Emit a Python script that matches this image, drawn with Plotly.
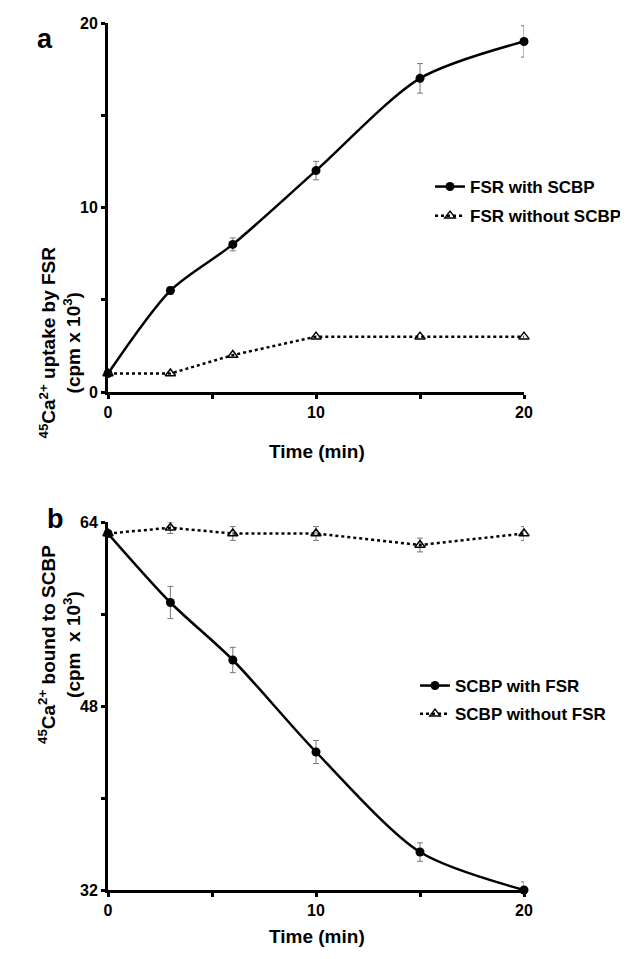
import plotly.graph_objects as go

time_min = [0, 3, 6, 10, 15, 20]

# Panel a: 45Ca2+ uptake by FSR (cpm x 10^3)
fsr_with_scbp = [1.0, 5.5, 8.0, 12.0, 17.0, 19.0]
fsr_with_scbp_err = [0.0, 0.2, 0.35, 0.5, 0.8, 0.85]
fsr_without_scbp = [1.0, 1.0, 2.0, 3.0, 3.0, 3.0]

# Panel b: 45Ca2+ bound to SCBP (cpm x 10^3)
scbp_with_fsr = [63.0, 57.0, 52.0, 44.0, 35.3, 32.0]
scbp_with_fsr_err = [0.0, 1.4, 1.1, 1.0, 0.8, 0.7]
scbp_without_fsr = [63.0, 63.5, 63.0, 63.0, 62.0, 63.0]
scbp_without_fsr_err = [0.0, 0.5, 0.6, 0.6, 0.6, 0.6]

x_tickvals = [0, 5, 10, 15, 20]
x_ticktext = ["0", "", "10", "", "20"]
ya_tickvals = [0, 5, 10, 15, 20]
ya_ticktext = ["0", "", "10", "", "20"]
yb_tickvals = [32, 40, 48, 56, 64]
yb_ticktext = ["32", "", "48", "", "64"]

FONT = "Liberation Sans, Arial, sans-serif"
# The page body has an 8px default margin; the figure is sized to fit inside it.
OFF = 8
W, H = 628 - 2 * OFF, 959 - 2 * OFF

def px_x(p):
    return (p - OFF) / W

def px_y(p):
    return 1 - (p - OFF) / H

fig = go.Figure()

err_style = dict(type="data", visible=True, color="#777777", thickness=1, width=3)

fig.add_trace(go.Scatter(
    x=time_min, y=fsr_with_scbp, mode="lines+markers", name="FSR with SCBP",
    line=dict(color="black", width=2.5, shape="spline", smoothing=0.8),
    marker=dict(symbol="circle", size=9, color="black"),
    error_y=dict(array=fsr_with_scbp_err, **err_style),
    xaxis="x", yaxis="y", legend="legend", legendgroup="a1", cliponaxis=False))
fig.add_trace(go.Scatter(
    x=time_min, y=fsr_without_scbp, mode="lines+markers", name="FSR without SCBP",
    line=dict(color="black", width=2.5, dash="dot"),
    marker=dict(symbol="triangle-up-open", size=9, color="black", line=dict(width=1.5)),
    xaxis="x", yaxis="y", legend="legend", legendgroup="a2", cliponaxis=False))

fig.add_trace(go.Scatter(
    x=time_min, y=scbp_with_fsr, mode="lines+markers", name="SCBP with FSR",
    line=dict(color="black", width=2.5, shape="spline", smoothing=0.8),
    marker=dict(symbol="circle", size=9, color="black"),
    error_y=dict(array=scbp_with_fsr_err, **err_style),
    xaxis="x2", yaxis="y2", legend="legend2", legendgroup="b1", cliponaxis=False))
fig.add_trace(go.Scatter(
    x=time_min, y=scbp_without_fsr, mode="lines+markers", name="SCBP without FSR",
    line=dict(color="black", width=2.5, dash="dot"),
    marker=dict(symbol="triangle-up-open", size=9, color="black", line=dict(width=1.5)),
    error_y=dict(array=scbp_without_fsr_err, **err_style),
    xaxis="x2", yaxis="y2", legend="legend2", legendgroup="b2", cliponaxis=False))

axis_common = dict(showline=True, linecolor="black", linewidth=3, ticks="outside",
                   ticklen=4, tickwidth=3, tickcolor="black", showgrid=False,
                   zeroline=False, automargin=False,
                   tickfont=dict(family=FONT, size=16, color="black", weight="bold"))

xdom = [px_x(108), px_x(524)]
leg_font = dict(family=FONT, size=17, color="black", weight="bold")
fig.update_layout(
    width=W, height=H, paper_bgcolor="white", plot_bgcolor="white",
    margin=dict(l=0, r=0, t=0, b=0, autoexpand=False),
    font=dict(family=FONT, color="black"),
    xaxis=dict(domain=xdom, range=[0, 20], tickvals=x_tickvals, ticktext=x_ticktext,
               anchor="y", **axis_common),
    yaxis=dict(domain=[px_y(392), px_y(23)], range=[0, 20], tickvals=ya_tickvals,
               ticktext=ya_ticktext, anchor="x", **axis_common),
    xaxis2=dict(domain=xdom, range=[0, 20], tickvals=x_tickvals, ticktext=x_ticktext,
                anchor="y2", **axis_common),
    yaxis2=dict(domain=[px_y(890), px_y(522)], range=[32, 64], tickvals=yb_tickvals,
                ticktext=yb_ticktext, anchor="x2", **axis_common),
    legend=dict(x=px_x(430), y=px_y(169), xanchor="left", yanchor="top",
                bgcolor="rgba(0,0,0,0)", tracegroupgap=4, itemwidth=30,
                font=leg_font),
    legend2=dict(x=px_x(415), y=px_y(668), xanchor="left", yanchor="top",
                 bgcolor="rgba(0,0,0,0)", tracegroupgap=3, itemwidth=30,
                 font=leg_font),
    showlegend=True,
)

ann_font = dict(family=FONT, size=19, color="black", weight="bold")
fig.add_annotation(x=px_x(33), y=px_y(245), xref="paper", yref="paper", textangle=-90,
                   text="<sup>45</sup>Ca<sup>2+</sup> uptake by FSR<br>(cpm x 10<sup>3</sup>)",
                   showarrow=False, font=ann_font, align="center")
fig.add_annotation(x=px_x(33), y=px_y(746), xref="paper", yref="paper", textangle=-90,
                   text="<sup>45</sup>Ca<sup>2+</sup> bound to SCBP<br>(cpm  x 10<sup>3</sup>)",
                   showarrow=False, font=ann_font, align="center")
fig.add_annotation(x=px_x(317), y=px_y(452), xref="paper", yref="paper",
                   text="Time (min)", showarrow=False, font=ann_font)
fig.add_annotation(x=px_x(317), y=px_y(949), xref="paper", yref="paper",
                   text="Time (min)", showarrow=False, font=ann_font)
fig.add_annotation(x=px_x(35), y=px_y(22), xref="paper", yref="paper",
                   text="a", showarrow=False, font=dict(family=FONT, size=27, color="black", weight="bold"))
fig.add_annotation(x=px_x(45), y=px_y(519), xref="paper", yref="paper",
                   text="b", showarrow=False, font=dict(family=FONT, size=27, color="black", weight="bold"))

fig.write_html("out.html")
